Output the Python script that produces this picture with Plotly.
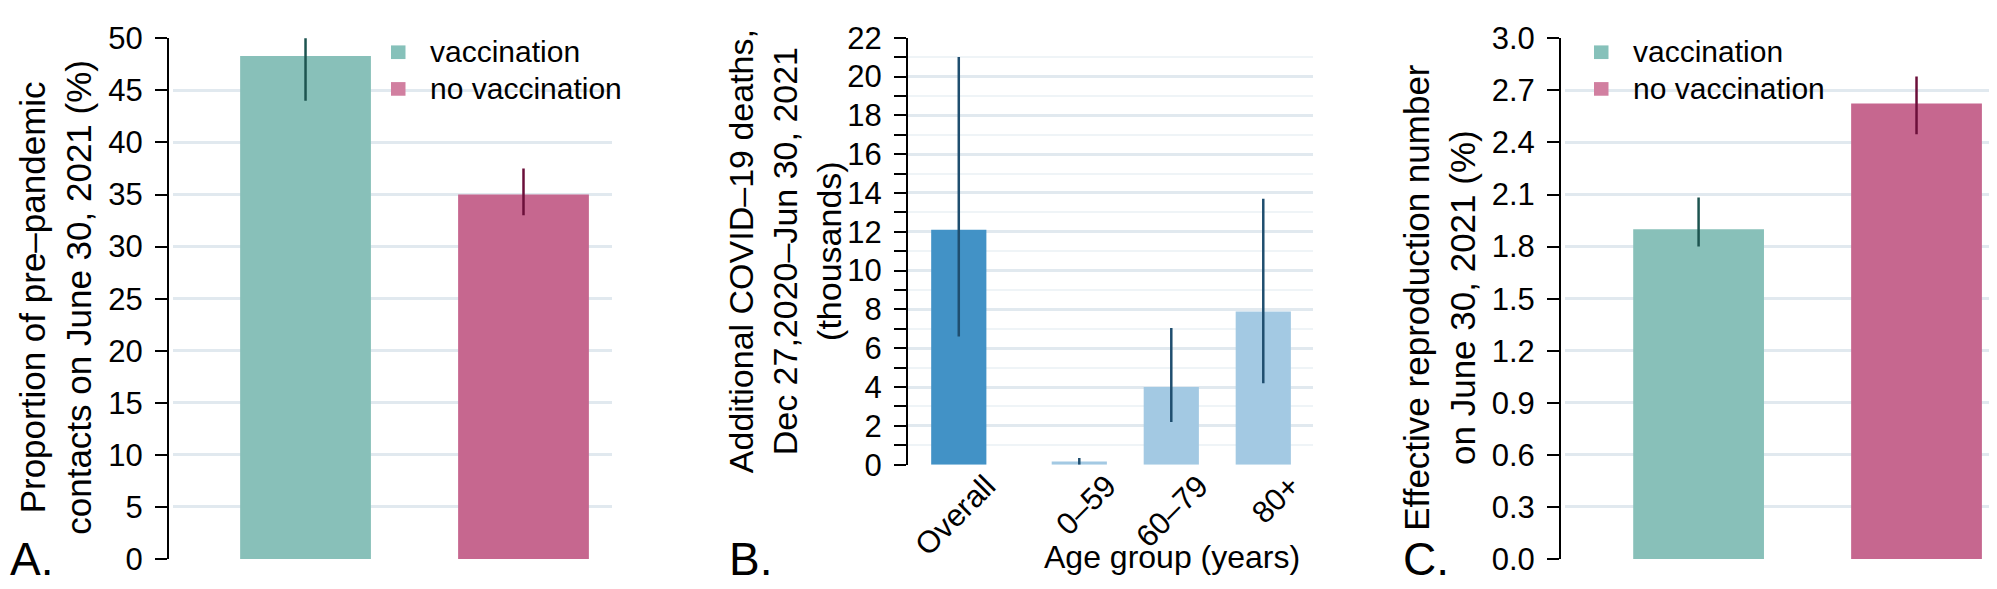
import plotly.graph_objects as go

W, H = 1997, 589

# panel A: proportion of pre-pandemic contacts (%)
groups = ["vaccination", "no vaccination"]
contacts = [48.3, 35.0]
contacts_lo = [44.0, 33.0]
contacts_hi = [50.8, 37.5]

# panel B: additional deaths (thousands) by age group
age_labels = ["Overall", "0–59", "60–79", "80+"]
age_pos = [0, 1.31, 2.31, 3.31]
deaths = [12.1, 0.17, 4.0, 7.9]
deaths_lo = [6.6, 0.0, 2.2, 4.2]
deaths_hi = [21.0, 0.35, 7.04, 13.7]

# panel C: effective reproduction number
rt = [1.9, 2.625]
rt_lo = [1.8, 2.448]
rt_hi = [2.083, 2.78]

bar_cols = ["#88c0b9", "#c6678f"]
err_cols = ["#1d5450", "#6b0f3a"]
legend_cols = ["#86c1ba", "#d17fa0"]
blue_cols = ["#4292c6", "#a3c9e3", "#a3c9e3", "#a3c9e3"]

FONT = "Liberation Sans"
grid_major = "#e1e9ef"
grid_minor = "#eff4f7"


def px(x):
    return x / W


def py(y):
    return 1 - y / H


fig = go.Figure()

for i, g in enumerate(groups):
    fig.add_trace(go.Bar(
        x=[g], y=[contacts[i]], width=0.6, marker_color=bar_cols[i],
        marker_line_width=0, showlegend=False,
        error_y=dict(type="data", symmetric=False,
                     array=[contacts_hi[i] - contacts[i]],
                     arrayminus=[contacts[i] - contacts_lo[i]],
                     width=0, thickness=2.5, color=err_cols[i]),
        xaxis="x", yaxis="y"))
    fig.add_trace(go.Bar(
        x=[g], y=[rt[i]], width=0.6, marker_color=bar_cols[i],
        marker_line_width=0, showlegend=False,
        error_y=dict(type="data", symmetric=False,
                     array=[rt_hi[i] - rt[i]],
                     arrayminus=[rt[i] - rt_lo[i]],
                     width=0, thickness=2.5, color=err_cols[i]),
        xaxis="x3", yaxis="y3"))

fig.add_trace(go.Bar(
    x=age_pos, y=deaths, width=0.6, marker_color=blue_cols,
    marker_line_width=0, showlegend=False,
    error_y=dict(type="data", symmetric=False,
                 array=[h - v for h, v in zip(deaths_hi, deaths)],
                 arrayminus=[v - l for v, l in zip(deaths, deaths_lo)],
                 width=0, thickness=2.5, color="#1f4e6f"),
    xaxis="x2", yaxis="y2"))

tick_font = dict(family=FONT, size=31, color="black")
yax = dict(showline=True, linecolor="black", linewidth=2, ticks="outside",
           ticklen=12, tickwidth=2, tickcolor="black", tickfont=tick_font,
           gridcolor=grid_major, gridwidth=2.5, zeroline=False,
           anchor="free", ticklabelstandoff=6, ticklabeloverflow="allow")
xax = dict(showline=False, showgrid=False, zeroline=False, ticks="")

# rotated labels sit to the right of the bar centres, as in the original
label_pos = [p + 0.3 for p in age_pos]

yA = [py(567.7), py(14.2)]
fig.update_layout(
    width=W, height=H, margin=dict(l=0, r=0, t=0, b=0),
    paper_bgcolor="white", plot_bgcolor="white", showlegend=False,
    xaxis=dict(xax, domain=[px(165), px(604)], range=[-0.608, 1.406],
               showticklabels=False, anchor="y"),
    yaxis=dict(yax, domain=yA, range=[0, 50], dtick=5, position=px(160)),
    xaxis2=dict(xax, domain=[px(900), px(1304.5)], range=[-0.552, 3.845],
                tickvals=label_pos, ticktext=age_labels, tickangle=-45,
                tickfont=tick_font, anchor="y2", ticklabeloverflow="allow",
                ticklabelstandoff=-4),
    yaxis2=dict(yax, domain=[py(467.5), py(13.5)], range=[0, 22], dtick=2,
                position=px(899),
                minor=dict(dtick=1, ticks="outside", ticklen=12, tickwidth=2,
                           tickcolor="black", showgrid=True,
                           gridcolor=grid_minor, gridwidth=2)),
    xaxis3=dict(xax, domain=[px(1557), 1], range=[-0.613, 1.406],
                showticklabels=False, anchor="y3"),
    yaxis3=dict(yax, domain=yA, range=[0, 3], dtick=0.3, tickformat=".1f",
                position=px(1552)),
)

ann = []
title_font = dict(family=FONT, size=35, color="black")
ann.append(dict(text="Proportion of pre–pandemic<br>contacts on June 30, 2021 (%)",
                x=px(48), y=py(290), textangle=-90, font=title_font))
ann.append(dict(text="Additional COVID–19 deaths,<br>Dec 27,2020–Jun 30, 2021<br>(thousands)",
                x=px(777), y=py(240.5), textangle=-90,
                font=dict(family=FONT, size=34, color="black")))
ann.append(dict(text="Effective reproduction number<br>on June 30, 2021 (%)",
                x=px(1432), y=py(290), textangle=-90, font=title_font))
ann.append(dict(text="Age group (years)", x=px(1164), y=py(587), yanchor="bottom",
                font=dict(family=FONT, size=32, color="black")))
letter_font = dict(family=FONT, size=46, color="black")
for lx, lt in [(0, "A."), (719, "B."), (1393, "C.")]:
    ann.append(dict(text=lt, x=px(lx), y=-0.015, xanchor="left", yanchor="bottom",
                    font=letter_font))

# legends for panels A and C
legend_font = dict(family=FONT, size=30, color="black")
shapes = []
for sq_x, txt_x in [(383, 420), (1586, 1623)]:
    for i, g in enumerate(groups):
        top = 21.7 + i * 39
        shapes.append(dict(type="rect", xref="paper", yref="paper",
                           x0=px(sq_x), x1=px(sq_x + 14.5),
                           y0=py(top + 14.5), y1=py(top),
                           fillcolor=legend_cols[i], line_width=0))
        ann.append(dict(text=g, x=px(txt_x), y=py(top + 7), xanchor="left",
                        yanchor="middle", font=legend_font))

for a in ann:
    a.setdefault("xref", "paper")
    a.setdefault("yref", "paper")
    a.setdefault("showarrow", False)
    a.setdefault("xanchor", "center")
    a.setdefault("yanchor", "middle")

fig.update_layout(annotations=ann, shapes=shapes)
fig.write_html("out.html")
